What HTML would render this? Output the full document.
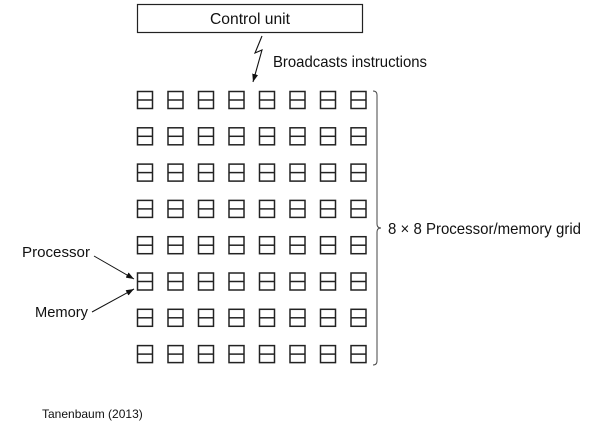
<!DOCTYPE html>
<html><head><style>body{margin:0;background:#fff}svg{display:block}text{font-family:"Liberation Sans",Arial,sans-serif;fill:#111}</style></head>
<body>
<svg width="604" height="442" viewBox="0 0 604 442" xmlns="http://www.w3.org/2000/svg">
<defs><marker id="a" markerWidth="8" markerHeight="6" refX="8" refY="3" orient="auto" markerUnits="userSpaceOnUse"><path d="M0,0 L8,3 L0,6 z" fill="#111"/></marker></defs>
<rect x="137.5" y="4.5" width="225" height="28" fill="none" stroke="#222" stroke-width="1.2"/>
<text x="250" y="24" font-size="16" text-anchor="middle" textLength="80" lengthAdjust="spacingAndGlyphs">Control unit</text>
<polyline points="262,36 255,53 262,50 253,82" fill="none" stroke="#111" stroke-width="1.1" marker-end="url(#a)"/>
<text x="273" y="67" font-size="16" textLength="154" lengthAdjust="spacingAndGlyphs">Broadcasts instructions</text>
<g fill="none" stroke="#222" stroke-width="1.5" id="g"></g>
<path d="M373,91 Q377,91 377,95 L377,224 Q377,228 381,228 Q377,228 377,232 L377,361 Q377,365 373,365" fill="none" stroke="#444" stroke-width="1"/>
<text x="388" y="234" font-size="16" textLength="193" lengthAdjust="spacingAndGlyphs">8 × 8 Processor/memory grid</text>
<text x="22" y="257" font-size="15" textLength="68" lengthAdjust="spacingAndGlyphs">Processor</text>
<line x1="94" y1="256" x2="134" y2="279" stroke="#111" stroke-width="1" marker-end="url(#a)"/>
<text x="35" y="317" font-size="15" textLength="53" lengthAdjust="spacingAndGlyphs">Memory</text>
<line x1="92" y1="312" x2="134" y2="289" stroke="#111" stroke-width="1" marker-end="url(#a)"/>
<text x="42" y="418" font-size="12">Tanenbaum (2013)</text>
</svg>
<script>
var g=document.getElementById('g'),s='';
for(var r=0;r<8;r++)for(var c=0;c<8;c++){var x=137.5+c*30.5,y=91.5+r*36.3;
 s+='<rect x="'+x+'" y="'+y+'" width="15" height="17"/><line x1="'+x+'" y1="'+(y+8.5)+'" x2="'+(x+15)+'" y2="'+(y+8.5)+'"/>';}
g.innerHTML=s;
</script>
</body></html>
